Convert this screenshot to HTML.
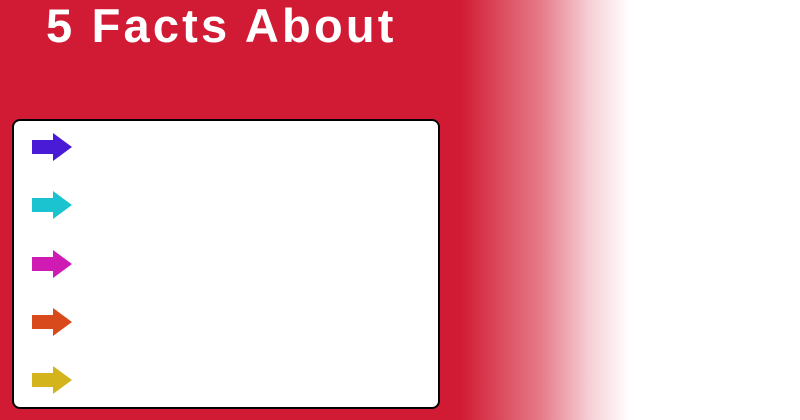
<!DOCTYPE html>
<html><head><meta charset="utf-8"><style>
html,body{margin:0;padding:0}
body{width:800px;height:420px;overflow:hidden;position:relative;
background:linear-gradient(to right,#d11a33 0px,#d11a33 460px,#e57a88 540px,#f6d0d6 590px,#ffffff 630px,#ffffff 800px);}
.title{position:absolute;left:46px;top:-2px;font-family:"Liberation Sans",sans-serif;font-weight:bold;font-size:47px;color:#fff;letter-spacing:3.2px;margin:0;white-space:nowrap}
.box{position:absolute;left:12px;top:119px;width:424px;height:286px;background:#fff;border:2px solid #000;border-radius:8px}
.arrow{position:absolute;left:32px}
</style></head><body>
<h1 class="title">5 Facts About</h1>
<div class="box"></div>
<svg class="arrow" style="top:133px" width="40" height="29"><polygon points="0,7 21,7 21,0 40,14 21,28 21,21 0,21" fill="#4a1bd6"/></svg>
<svg class="arrow" style="top:191px" width="40" height="29"><polygon points="0,7 21,7 21,0 40,14 21,28 21,21 0,21" fill="#1bc3d1"/></svg>
<svg class="arrow" style="top:250px" width="40" height="29"><polygon points="0,7 21,7 21,0 40,14 21,28 21,21 0,21" fill="#cf1bb4"/></svg>
<svg class="arrow" style="top:308px" width="40" height="29"><polygon points="0,7 21,7 21,0 40,14 21,28 21,21 0,21" fill="#d8491c"/></svg>
<svg class="arrow" style="top:366px" width="40" height="29"><polygon points="0,7 21,7 21,0 40,14 21,28 21,21 0,21" fill="#d3b41c"/></svg>
</body></html>
